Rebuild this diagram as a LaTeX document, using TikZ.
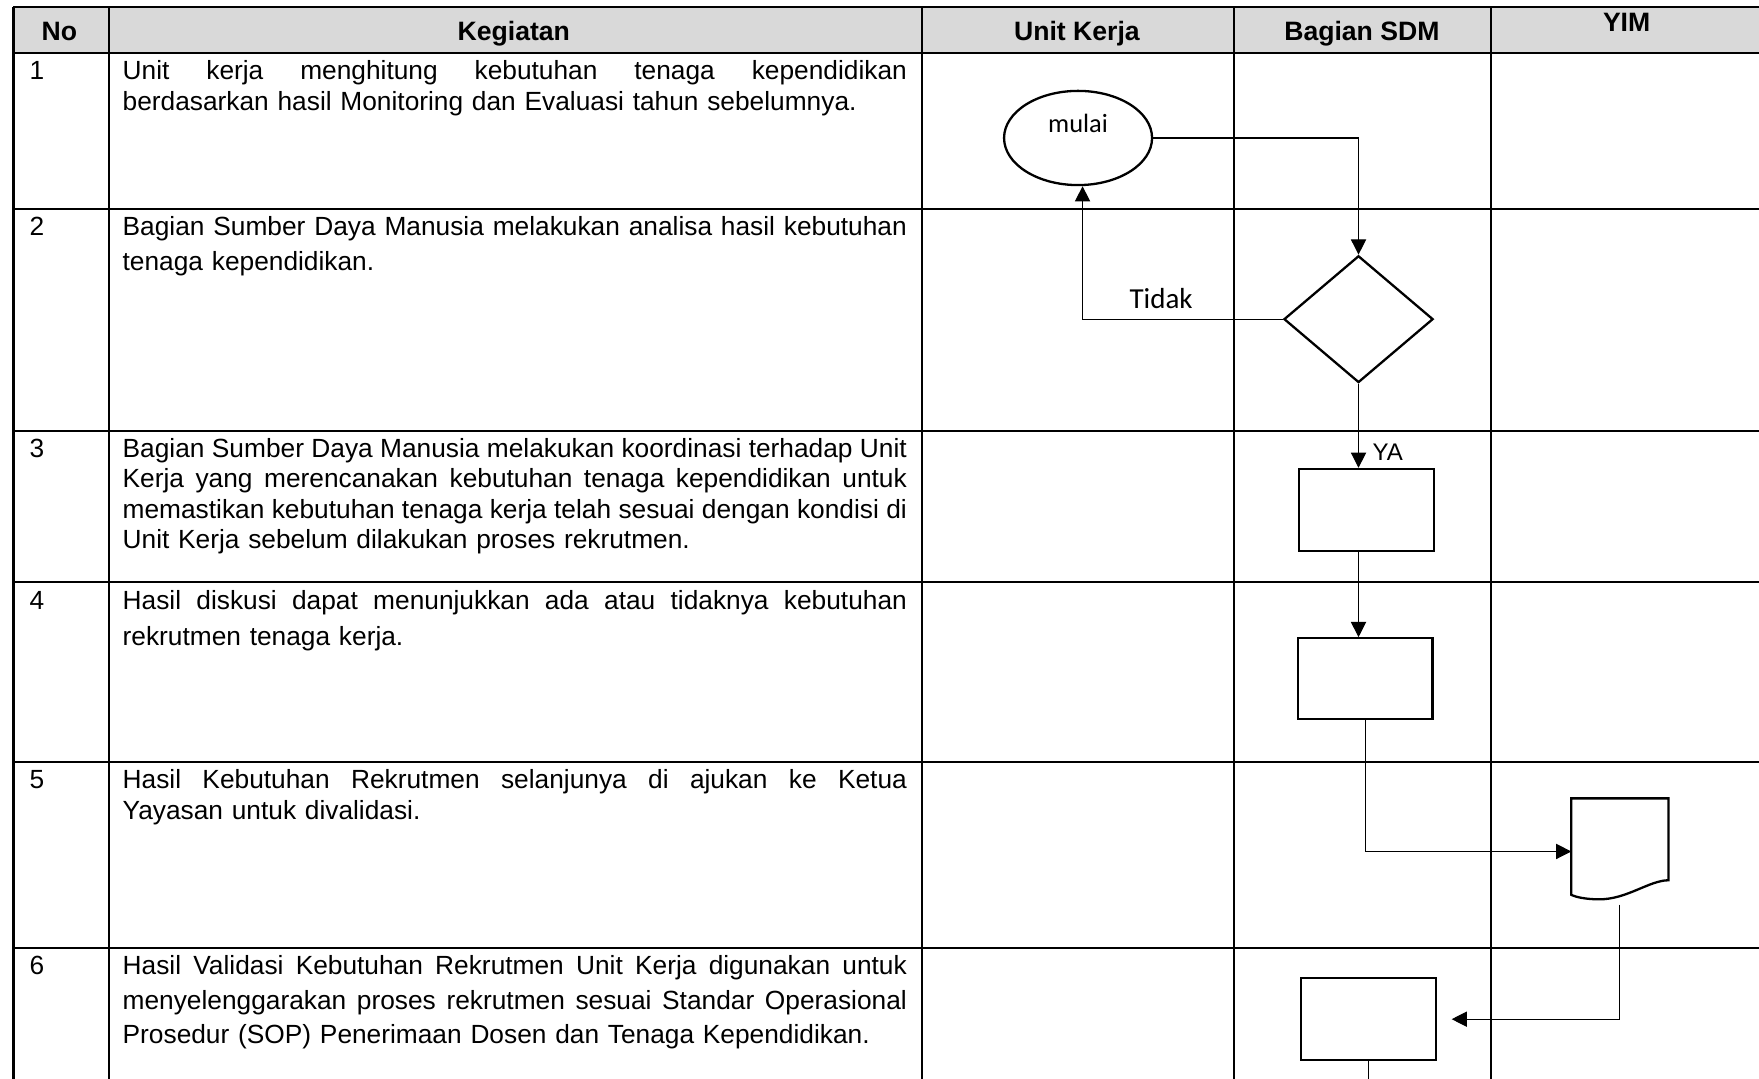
\documentclass[tikz,border=0pt]{standalone}
\usepackage{fontspec}
\setmainfont{Liberation Sans}
\newfontfamily\calfont{Carlito}
\usetikzlibrary{shapes.geometric,arrows.meta,calc}
\newlength\kw \setlength\kw{392.1pt}
\newcommand\jl[1]{\leavevmode\hbox to \kw{\spaceskip=0.278em plus 1fil minus 0.14em\xspaceskip=\spaceskip #1}\\}
\begin{document}
\begin{tikzpicture}[x=0.5609pt,y=-0.5609pt,
  grid/.style={line width=1.05pt},
  cell/.style={anchor=base west,inner sep=0pt,text width=\kw,align=left},
  num/.style={anchor=base west,inner sep=0pt,font={\fontsize{13.15}{15.7}\selectfont}},
  head/.style={anchor=base,inner sep=0pt,font={\fontsize{13.3}{16}\selectfont\bfseries}},
  shapeline/.style={draw,line width=1.15pt,inner sep=0pt,fill=white},
  procbox/.style={shapeline,rectangle,minimum width=67.3pt,minimum height=40.9pt},
  conn/.style={line width=0.55pt,-{Triangle[length=7.6pt,width=7.6pt]}},
  plainline/.style={line width=0.55pt},
  lbl/.style={inner sep=0pt,font={\calfont\fontsize{14.5}{16}\selectfont}}
]
\useasboundingbox (0,0) rectangle (1568,961);
\clip (0,0) rectangle (1568,961);
% header background
\fill[gray!30] (12,6) rectangle (1590,47);
% grid
\foreach \y in {6,47,186,384,519,679,845}
  \draw[grid] (12,\y) -- (1590,\y);
\foreach \x in {12,97,822,1100,1329}
  \draw[grid] (\x,6) -- (\x,990);
% header texts
\node[head] (hno) at (53,36.5) {No};
\node[head] (hkeg) at (458,36.5) {Kegiatan};
\node[head] (hunit) at (960,36.5) {Unit Kerja};
\node[head] (hsdm) at (1214,36.5) {Bagian SDM};
\node[head] (hyim) at (1450,28.5) {YIM};
% numbers
\node[num] (n1) at (26,70.5) {1};
\node[num] (n2) at (26,209.5) {2};
\node[num] (n3) at (26,407.5) {3};
\node[num] (n4) at (26,543.5) {4};
\node[num] (n5) at (26,702.5) {5};
\node[num] (n6) at (26,868.5) {6};
% activity texts
\node[cell,font={\fontsize{13.15}{15.7}\selectfont}] (t1) at (109,70.5)
  {\jl{Unit kerja menghitung kebutuhan tenaga kependidikan}berdasarkan hasil Monitoring dan Evaluasi tahun sebelumnya.};
\node[cell,font={\fontsize{13.15}{17.9}\selectfont}] (t2) at (109,209.5)
  {\jl{Bagian Sumber Daya Manusia melakukan analisa hasil kebutuhan}tenaga kependidikan.};
\node[cell,font={\fontsize{13.15}{15.3}\selectfont}] (t3) at (109,407.5)
  {\jl{Bagian Sumber Daya Manusia melakukan koordinasi terhadap Unit}\jl{Kerja yang merencanakan kebutuhan tenaga kependidikan untuk}\jl{memastikan kebutuhan tenaga kerja telah sesuai dengan kondisi di}Unit Kerja sebelum dilakukan proses rekrutmen.};
\node[cell,font={\fontsize{13.15}{17.9}\selectfont}] (t4) at (109,543.5)
  {\jl{Hasil diskusi dapat menunjukkan ada atau tidaknya kebutuhan}rekrutmen tenaga kerja.};
\node[cell,font={\fontsize{13.15}{15.7}\selectfont}] (t5) at (109,702.5)
  {\jl{Hasil Kebutuhan Rekrutmen selanjunya di ajukan ke Ketua}Yayasan untuk divalidasi.};
\node[cell,font={\fontsize{13.15}{17.4}\selectfont}] (t6) at (109,868.5)
  {\jl{Hasil Validasi Kebutuhan Rekrutmen Unit Kerja digunakan untuk}\jl{menyelenggarakan proses rekrutmen sesuai Standar Operasional}Prosedur (SOP) Penerimaan Dosen dan Tenaga Kependidikan.};
% flowchart shapes
\node[shapeline,ellipse,minimum width=74pt,minimum height=47.1pt] (start) at (961,123) {};
\node[inner sep=0pt,font={\calfont\fontsize{13.2}{15}\selectfont}] (startlbl) at (961,110) {mulai};
\node[shapeline,diamond,minimum width=74.6pt,minimum height=63.4pt] (dec) at (1211,284.5) {};
\node[procbox] (r1) at (1218,454.5) {};
\node[procbox,minimum height=40.4pt] (r2) at (1217,605) {};
\node[procbox] (r3) at (1220,908.5) {};
\node[inner sep=0pt,minimum width=48.2pt,minimum height=52.7pt] (doc) at (1444,759) {};
\draw[line width=1.15pt,fill=white] (doc.north west) -- (doc.north east) -- ($(doc.north east)+(0,73)$)
  .. controls ($(doc.north east)+(-17,73)$) and ($(doc.north east)+(-37,90)$) .. ($(doc.north west)+(25,90)$)
  .. controls ($(doc.north west)+(13,90)$) and ($(doc.north west)+(4,88)$) .. ($(doc.north west)+(0,86)$) -- cycle;
\coordinate (rowend) at (1220,990);
% connectors
\draw[conn] (start.east) -| (dec.north);
\draw[conn] (dec.west) -| ($(start.south)+(4,0)$);
\draw[conn] (dec.south) -- (dec.south |- r1.north);
\draw[conn] (dec.south |- r1.south) -- (dec.south |- r2.north);
\draw[conn] (r2.south) |- (doc.west);
\draw[conn,shorten >=7.3pt] (doc.south) |- (r3.east);
\draw[plainline] (r3.south) -- (r3.south |- rowend);
% labels
\node[lbl] (tidak) at (1035,266) {Tidak};
\node[inner sep=0pt,font={\fontsize{12}{14}\selectfont}] (ya) at (1237,403) {YA};
\end{tikzpicture}
\end{document}
